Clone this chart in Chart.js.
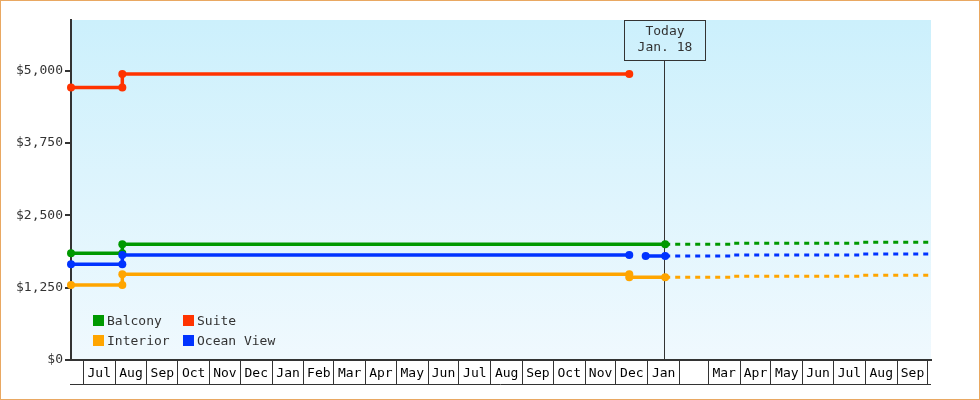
<!DOCTYPE html>
<html>
<head>
<meta charset="utf-8">
<script src="https://cdn.jsdelivr.net/npm/chart.js@4/dist/chart.umd.min.js"></script>
<style>
  html, body { margin: 0; padding: 0; background: #fff; }
  #wrap { position: relative; width: 980px; height: 400px; }
  #frame { position: absolute; left: 0; top: 0; width: 980px; height: 400px; box-sizing: border-box; border: 1px solid #e9a862; pointer-events: none; }
  .legend { position: absolute; padding-left: 14px; font: 13px "DejaVu Sans Mono", monospace; color: #333; line-height: 14px; white-space: nowrap; }
  .legend i { position: absolute; left: 0; top: 1px; width: 11px; height: 11px; }
</style>
</head>
<body>
<div id="wrap">
  <canvas id="priceChart" width="980" height="400"></canvas>
  <div id="legend"></div>
  <div id="frame"></div>
</div>
<script>
// x range and month axis
const X_MIN = "2015-06-19";
const X_MAX = "2017-10-04";
const FIRST_MONTH = [2015, 7];
const MONTH_LABELS = ["Jul", "Aug", "Sep", "Oct", "Nov", "Dec",
  "Jan", "Feb", "Mar", "Apr", "May", "Jun", "Jul", "Aug", "Sep", "Oct", "Nov", "Dec",
  "Jan", "", "Mar", "Apr", "May", "Jun", "Jul", "Aug", "Sep"];
const Y_TICKS = [0, 1250, 2500, 3750, 5000];
const Y_MAX = 5875;

const TODAY = "2017-01-18";
const TODAY_TEXT = ["Today", "Jan. 18"];

// price history
const BALCONY_DATES = ["2015-06-19", "2015-08-08", "2015-08-08", "2017-01-18"];
const BALCONY = [1844, 1844, 1999, 1999];

const SUITE_DATES = ["2015-06-19", "2015-08-08", "2015-08-08", "2016-12-14"];
const SUITE = [4710, 4710, 4940, 4940];

const INTERIOR_DATES = ["2015-06-19", "2015-08-08", "2015-08-08", "2016-12-14", "2016-12-14", "2017-01-18"];
const INTERIOR = [1296, 1296, 1481, 1481, 1429, 1429];

const OCEAN_DATES = ["2015-06-19", "2015-08-08", "2015-08-08", "2016-12-14", "2016-12-22", "2016-12-30", "2017-01-18"];
const OCEAN = [1654, 1654, 1814, 1814, null, 1797, 1797];

// forecast
const FORECAST_DATES = ["2017-01-18", "2017-03-23", "2017-07-28", "2017-10-04"];
const BALCONY_FC = [1999, 2016, 2033, 2033];
const OCEAN_FC = [1797, 1814, 1831, 1831];
const INTERIOR_FC = [1429, 1446, 1463, 1463];

const COLORS = {
  Balcony: "#009900",
  Suite: "#ff3300",
  Interior: "#ffa500",
  "Ocean View": "#0033ff"
};
const LEGEND_ORDER = ["Balcony", "Suite", "Interior", "Ocean View"];

const FONT = '"DejaVu Sans Mono", monospace';
const INK = "#333";

function day(s) {
  const [y, m, d] = s.split("-").map(Number);
  return Date.UTC(y, m - 1, d) / 86400000;
}

function points(dates, values) {
  return dates.map((d, i) => ({ x: day(d), y: values[i] }));
}

// month boundaries + label ticks in the middle of each month
const boundaries = [];
for (let i = 0; i <= MONTH_LABELS.length; i++) {
  boundaries.push(Date.UTC(FIRST_MONTH[0], FIRST_MONTH[1] - 1 + i, 1) / 86400000);
}
const boundarySet = new Set(boundaries);
const labelByValue = new Map();
MONTH_LABELS.forEach((lab, i) => {
  labelByValue.set((boundaries[i] + boundaries[i + 1]) / 2, lab);
});

function solid(label, dates, values) {
  return {
    label,
    data: points(dates, values),
    borderColor: COLORS[label],
    backgroundColor: COLORS[label],
    borderWidth: 3.5,
    pointRadius: 4,
    pointHoverRadius: 4,
    pointBorderWidth: 0,
    spanGaps: false,
    clip: false
  };
}

function forecast(label, values) {
  return {
    label: label + " forecast",
    data: points(FORECAST_DATES, values),
    borderColor: COLORS[label],
    borderWidth: 3,
    borderDash: [5, 5],
    stepped: true,
    pointRadius: 0,
    clip: false
  };
}

function todayX(chart) {
  return Math.floor(chart.scales.x.getPixelForValue(day(TODAY))) - 0.5;
}

const chartBg = {
  id: "chartBg",
  beforeDraw(chart) {
    const { ctx, chartArea: a } = chart;
    const g = ctx.createLinearGradient(0, a.top, 0, a.bottom);
    g.addColorStop(0, "#ccf0fc");
    g.addColorStop(1, "#f0f9fe");
    ctx.save();
    ctx.fillStyle = g;
    ctx.fillRect(a.left, a.top, a.right - a.left, a.bottom - a.top);
    ctx.restore();
  },
  beforeDatasetsDraw(chart) {
    const { ctx, chartArea: a } = chart;
    const x = todayX(chart);
    ctx.save();
    ctx.strokeStyle = INK;
    ctx.lineWidth = 1;
    ctx.beginPath();
    ctx.moveTo(x, a.top + 40);
    ctx.lineTo(x, a.bottom);
    ctx.stroke();
    ctx.restore();
  },
  afterDraw(chart) {
    const { ctx, chartArea: a } = chart;
    const x = todayX(chart);
    ctx.save();
    ctx.strokeStyle = INK;
    ctx.lineWidth = 1;
    ctx.strokeRect(x - 40, a.top + 0.5, 81, 40);
    ctx.fillStyle = INK;
    ctx.font = "13px " + FONT;
    ctx.textAlign = "center";
    ctx.textBaseline = "middle";
    ctx.fillText(TODAY_TEXT[0], x + 0.5, a.top + 12);
    ctx.fillText(TODAY_TEXT[1], x + 0.5, a.top + 28);
    // bottom line under the month cells
    ctx.beginPath();
    ctx.moveTo(a.left - 1, a.bottom + 24.5);
    ctx.lineTo(a.right, a.bottom + 24.5);
    ctx.stroke();
    ctx.restore();
  }
};

function buildLegend() {
  const box = document.getElementById("legend");
  const spots = [[93, 314], [183, 314], [93, 334], [183, 334]];
  LEGEND_ORDER.forEach((name, i) => {
    const el = document.createElement("div");
    el.className = "legend";
    el.style.left = spots[i][0] + "px";
    el.style.top = spots[i][1] + "px";
    el.innerHTML = `<i style="background:${COLORS[name]}"></i>${name}`;
    box.appendChild(el);
  });
}

function initChart() {
  const ctx = document.getElementById("priceChart").getContext("2d");

  new Chart(ctx, {
    type: "line",
    data: {
      datasets: [
        forecast("Balcony", BALCONY_FC),
        forecast("Ocean View", OCEAN_FC),
        forecast("Interior", INTERIOR_FC),
        solid("Interior", INTERIOR_DATES, INTERIOR),
        solid("Ocean View", OCEAN_DATES, OCEAN),
        solid("Balcony", BALCONY_DATES, BALCONY),
        solid("Suite", SUITE_DATES, SUITE)
      ]
    },
    options: {
      responsive: false,
      animation: false,
      devicePixelRatio: 1,
      layout: { padding: { top: 20, right: 49, left: 0, bottom: 16 } },
      plugins: {
        legend: { display: false },
        tooltip: { enabled: false }
      },
      scales: {
        x: {
          type: "linear",
          min: day(X_MIN),
          max: day(X_MAX),
          afterBuildTicks: (scale) => {
            const t = [];
            boundaries.forEach(v => t.push({ value: v }));
            labelByValue.forEach((lab, v) => t.push({ value: v }));
            t.sort((a, b) => a.value - b.value);
            scale.ticks = t;
          },
          afterFit: (scale) => { scale.height = 24; },
          border: { display: true, color: INK, width: 2 },
          grid: {
            drawOnChartArea: false,
            drawTicks: true,
            tickLength: 24,
            lineWidth: 1,
            tickColor: (c) => (c.tick && boundarySet.has(c.tick.value) ? INK : "rgba(0,0,0,0)")
          },
          ticks: {
            autoSkip: false,
            maxRotation: 0,
            minRotation: 0,
            padding: -18,
            color: "#000",
            font: { family: FONT, size: 13 },
            callback: (v) => (labelByValue.has(v) ? labelByValue.get(v) : "")
          }
        },
        y: {
          min: 0,
          max: Y_MAX,
          afterBuildTicks: (scale) => { scale.ticks = Y_TICKS.map(v => ({ value: v })); },
          afterFit: (scale) => { scale.width = 71; },
          border: { display: true, color: INK, width: 2 },
          grid: {
            drawOnChartArea: false,
            drawTicks: true,
            tickLength: 6,
            lineWidth: 2,
            tickColor: INK
          },
          ticks: {
            padding: 2,
            color: INK,
            font: { family: FONT, size: 13 },
            callback: (v) => "$" + v.toLocaleString("en-US")
          }
        }
      }
    },
    plugins: [chartBg]
  });
}

document.addEventListener("DOMContentLoaded", () => {
  buildLegend();
  initChart();
});
</script>
</body>
</html>
